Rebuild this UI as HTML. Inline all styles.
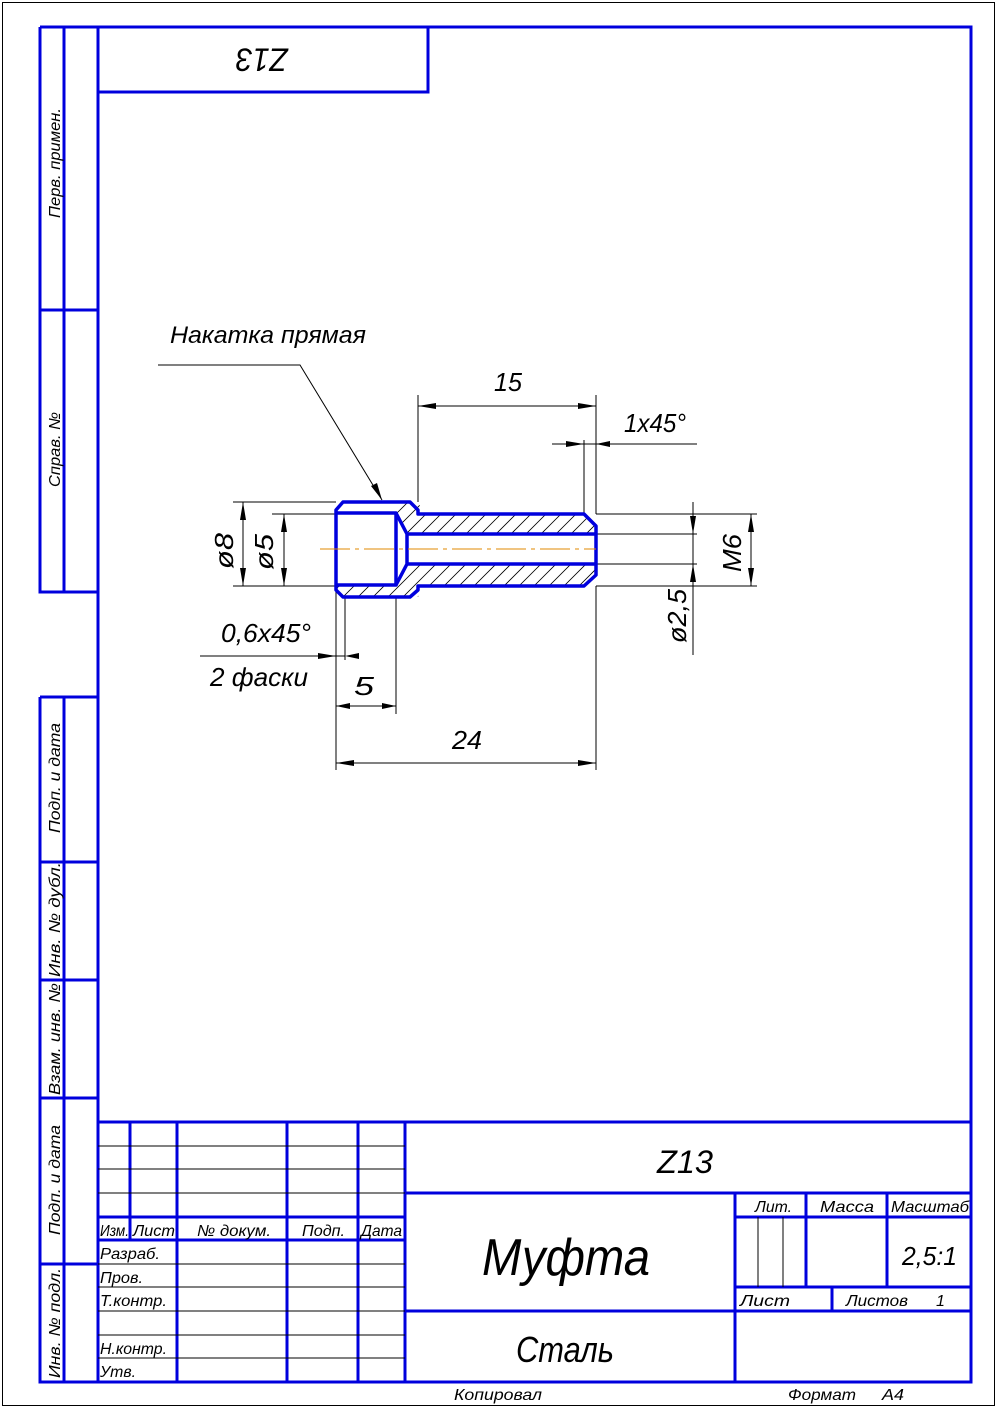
<!DOCTYPE html>
<html><head><meta charset="utf-8"><style>
html,body{margin:0;padding:0;background:#fff}
svg{display:block}
text{font-family:"Liberation Sans","DejaVu Sans",sans-serif;font-style:italic;fill:#000}
</style></head><body>
<svg width="997" height="1408" viewBox="0 0 997 1408" xmlns="http://www.w3.org/2000/svg">
<rect x="2.5" y="2.5" width="992" height="1403" fill="none" stroke="#000" stroke-width="1"/>
<g stroke="#0000dd" stroke-width="3" fill="none">
<rect x="98" y="27" width="873" height="1355"/>
<rect x="98" y="27" width="330" height="65"/>
<path d="M64 27V592M40 27V592H98M40 27H98M40 310H98"/>
<path d="M40 697H98M40 697V1382H98M64 697V1382M40 862H98M40 980H98M40 1098H98M40 1264H98"/>
<path d="M98 1122H971M405 1122V1382M130 1122V1240M177 1122V1382M287 1122V1382M358 1122V1382M98 1217H405M98 1240H405"/>
<path d="M405 1193H971M405 1311H971M735 1193V1382M806 1193V1287M887 1193V1287M735 1217H971M735 1287H971M832 1287V1311"/>
</g>
<g stroke="#000" stroke-width="1" fill="none">
<path d="M98 1146H405M98 1169H405M98 1193H405M98 1264H405M98 1287H405M98 1311H405M98 1335H405M98 1358H405"/>
<path d="M758 1217V1287M783 1217V1287"/>
</g>
<g font-size="16">
<text transform="translate(60,218) rotate(-90)" textLength="110" lengthAdjust="spacingAndGlyphs">Перв. примен.</text>
<text transform="translate(60,487) rotate(-90)" textLength="75" lengthAdjust="spacingAndGlyphs">Справ. №</text>
<text transform="translate(60,833) rotate(-90)" textLength="110" lengthAdjust="spacingAndGlyphs">Подп. и дата</text>
<text transform="translate(60,977) rotate(-90)" textLength="115" lengthAdjust="spacingAndGlyphs">Инв. № дубл.</text>
<text transform="translate(60,1095) rotate(-90)" textLength="112" lengthAdjust="spacingAndGlyphs">Взам. инв. №</text>
<text transform="translate(60,1235) rotate(-90)" textLength="110" lengthAdjust="spacingAndGlyphs">Подп. и дата</text>
<text transform="translate(60,1378) rotate(-90)" textLength="110" lengthAdjust="spacingAndGlyphs">Инв. № подл.</text>
</g>
<text transform="translate(262,57) rotate(180)" font-size="32" text-anchor="middle" dominant-baseline="middle" textLength="52" lengthAdjust="spacingAndGlyphs">Z13</text>
<g font-size="16">
<text x="100" y="1236" textLength="29" lengthAdjust="spacingAndGlyphs">Изм.</text>
<text x="133" y="1236" textLength="42" lengthAdjust="spacingAndGlyphs">Лист</text>
<text x="197" y="1236" textLength="74" lengthAdjust="spacingAndGlyphs">№ докум.</text>
<text x="302" y="1236" textLength="43" lengthAdjust="spacingAndGlyphs">Подп.</text>
<text x="361" y="1236" textLength="41" lengthAdjust="spacingAndGlyphs">Дата</text>
<text x="100" y="1259" textLength="60" lengthAdjust="spacingAndGlyphs">Разраб.</text>
<text x="100" y="1283" textLength="43" lengthAdjust="spacingAndGlyphs">Пров.</text>
<text x="100" y="1306" textLength="67" lengthAdjust="spacingAndGlyphs">Т.контр.</text>
<text x="100" y="1354" textLength="67" lengthAdjust="spacingAndGlyphs">Н.контр.</text>
<text x="100" y="1377" textLength="36" lengthAdjust="spacingAndGlyphs">Утв.</text>
<text x="755" y="1212" textLength="37" lengthAdjust="spacingAndGlyphs">Лит.</text>
<text x="820" y="1212" textLength="54" lengthAdjust="spacingAndGlyphs">Масса</text>
<text x="891" y="1212" textLength="78" lengthAdjust="spacingAndGlyphs">Масштаб</text>
<text x="740" y="1306" textLength="50" lengthAdjust="spacingAndGlyphs">Лист</text>
<text x="846" y="1306" textLength="62" lengthAdjust="spacingAndGlyphs">Листов</text>
<text x="936" y="1306">1</text>
<text x="454" y="1400" textLength="88" lengthAdjust="spacingAndGlyphs">Копировал</text>
<text x="788" y="1400" textLength="68" lengthAdjust="spacingAndGlyphs">Формат</text>
<text x="882" y="1400" textLength="22" lengthAdjust="spacingAndGlyphs">А4</text>
</g>
<text x="902" y="1265" font-size="26" textLength="55" lengthAdjust="spacingAndGlyphs">2,5:1</text>
<text x="657" y="1173" font-size="32" textLength="56" lengthAdjust="spacingAndGlyphs">Z13</text>
<text x="482" y="1275" font-size="52" textLength="168" lengthAdjust="spacingAndGlyphs">Муфта</text>
<text x="516" y="1362" font-size="36" textLength="98" lengthAdjust="spacingAndGlyphs">Сталь</text>
<g stroke="#000" stroke-width="1" fill="none">
<clipPath id="c1"><path d="M336 502H418L424 514H584L596 526V534H407L396 513H336ZM336 597H418L424 586H584L596 575V564H407L396 585H336Z"/></clipPath>
<g clip-path="url(#c1)" stroke-width="0.8">
<path d="M300 640L460 480M315 640L475 480M330 640L490 480M345 640L505 480M360 640L520 480M375 640L535 480M390 640L550 480M405 640L565 480M420 640L580 480M435 640L595 480M450 640L610 480M465 640L625 480M480 640L640 480M495 640L655 480M510 640L670 480M525 640L685 480M540 640L700 480M555 640L715 480M570 640L730 480M285 640L445 480M270 640L430 480"/>
</g>
<path d="M233 502H336M272 514H336M233 586H336M272 586H336M596 514H757M596 586H757M596 534H697M596 564H697"/>
<path d="M418 395V502M596 395V514M584 440V514M596 586V770M336 597V770M396 597V714M345 597V660M336 586V597"/>
<path d="M158 365H300L382 500"/>
<path d="M200 656H345"/>
<path d="M552 444H596M596 444H697"/>
<path d="M418 406H596M336 763H596M336 706H396M243 502V586M284 514V586M751 514V586M693 502V655"/>
</g>
<g fill="#000">
<path d="M418 406l18-3v6zM596 406l-18-3v6zM336 763l18-3v6zM596 763l-18-3v6zM336 706l14-3v6zM396 706l-14-3v6z"/>
<path d="M243 502l-3 18h6zM243 586l-3-18h6zM284 514l-3 18h6zM284 586l-3-18h6zM751 514l-3 18h6zM751 586l-3-18h6z"/>
<path d="M693 534l-3-18h6zM693 564l-3 18h6z"/>
<path d="M584 444l-18-3v6zM596 444l14-3v6zM336 656l-18-3v6zM345 656l14-3v6z"/>
<path d="M382 500l-11-14 6-3z"/>
</g>
<g stroke="#0000dd" stroke-width="3.5" fill="none" stroke-linejoin="round">
<path d="M343 502H410L418 510V514H584L596 526V575L584 586H418V590L410 597H343L336 590V510Z"/>
<path d="M336 513H396V585H336"/>
<path d="M396 513L407 534V564L396 585"/>
<path d="M407 534H596M407 564H596"/>
</g>
<path d="M320 549H596" stroke="#e08a00" stroke-width="1" stroke-dasharray="30 5 4 5"/>
<g font-size="26">
<text x="170" y="343" font-size="24" textLength="196" lengthAdjust="spacingAndGlyphs">Накатка прямая</text>
<text x="494" y="391" textLength="28" lengthAdjust="spacingAndGlyphs">15</text>
<text x="624" y="432" textLength="62" lengthAdjust="spacingAndGlyphs">1x45°</text>
<text x="221" y="642" textLength="90" lengthAdjust="spacingAndGlyphs">0,6x45°</text>
<text x="210" y="686" textLength="98" lengthAdjust="spacingAndGlyphs">2 фаски</text>
<text x="354" y="695" textLength="20" lengthAdjust="spacingAndGlyphs">5</text>
<text x="452" y="749" textLength="30" lengthAdjust="spacingAndGlyphs">24</text>
<text transform="translate(233,569) rotate(-90)" textLength="36" lengthAdjust="spacingAndGlyphs">ø8</text>
<text transform="translate(273,570) rotate(-90)" textLength="36" lengthAdjust="spacingAndGlyphs">ø5</text>
<text transform="translate(741,572) rotate(-90)" textLength="38" lengthAdjust="spacingAndGlyphs">M6</text>
<text transform="translate(686,643) rotate(-90)" textLength="54" lengthAdjust="spacingAndGlyphs">ø2,5</text>
</g>
</svg>
</body></html>
